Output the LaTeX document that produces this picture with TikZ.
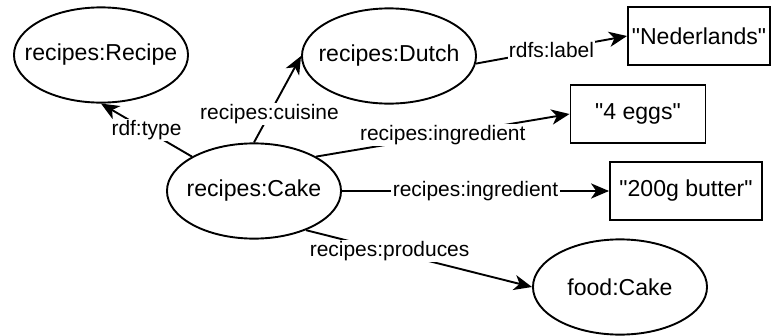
\documentclass[tikz,border=0pt]{standalone}
\usepackage{fontspec}
\setmainfont{Liberation Sans}
\usepackage{tikz}
\usetikzlibrary{arrows.meta, shapes.geometric}
\newcommand{\lit}[1]{\textquotedbl#1\textquotedbl}

\begin{document}
\begin{tikzpicture}[
  x=0.025cm, y=-0.025cm,
  resNode/.style={draw, ellipse, line width=1.35pt, inner xsep=-11pt, inner ysep=0pt, minimum width=4.35cm, minimum height=2.38cm, font=\fontsize{16.4}{19}\selectfont},
  litNode/.style={draw, rectangle, line width=1.35pt, inner sep=0pt, minimum height=1.44cm, font=\fontsize{16.4}{19}\selectfont},
  arrow/.style={-{Stealth[length=0.45cm, width=0.38cm, inset=0.13cm]}, line width=1.35pt},
  edgeLabel/.style={fill=white, inner sep=1pt, font=\fontsize{14.9}{17}\selectfont}
]
\useasboundingbox (0,0) rectangle (772,336);

% Resources
\node[resNode] (recipe) at (101,55) {recipes:Recipe};
\node[resNode] (dutch) at (389,56) {recipes:Dutch};
\node[resNode] (cake) at (254,191) {recipes:Cake};
\node[resNode] (food) at (620,287) {food:Cake};

% Literals
\node[litNode, minimum width=3.55cm] (ned) at (699,36) {\lit{Nederlands}};
\node[litNode, minimum width=3.375cm] (eggs) at (638,114) {\lit{4 eggs}};
\node[litNode, minimum width=3.8cm] (butter) at (686,191) {\lit{200g butter}};

% Triples
\draw[arrow] (cake.151) -- node[edgeLabel] {rdf:type} (recipe.south);
\draw[arrow] (cake.north) -- node[edgeLabel, pos=0.33] {recipes:cuisine} (dutch.west);
\draw[arrow] (dutch.-5) -- node[edgeLabel] {rdfs:label} (ned.west);
\draw[arrow] (cake.29) -- node[edgeLabel] {recipes:ingredient} (eggs.west);
\draw[arrow] (cake.east) -- node[edgeLabel] {recipes:ingredient} (butter.west);
\draw[arrow] (cake.-37) -- node[edgeLabel, pos=0.37] {recipes:produces} (food.west);

\end{tikzpicture}
\end{document}
